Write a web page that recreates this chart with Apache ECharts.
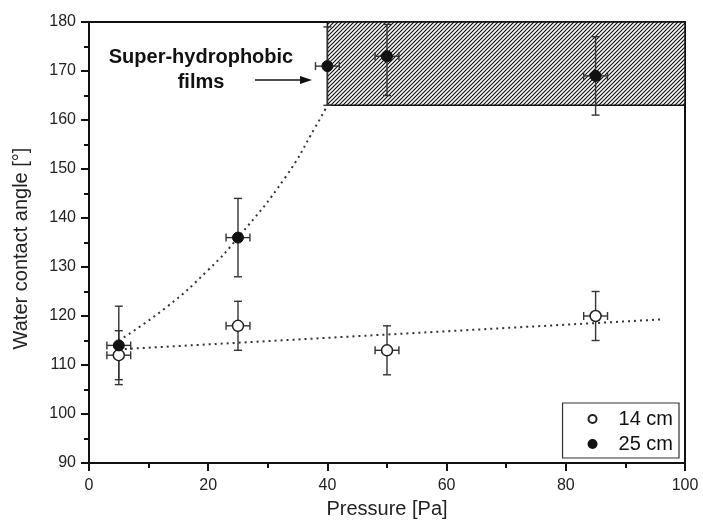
<!DOCTYPE html>
<html><head><meta charset="utf-8">
<script src="https://cdn.jsdelivr.net/npm/echarts@6/dist/echarts.min.js"></script>
<style>html,body{margin:0;padding:0;background:#fff}#c{width:703px;height:524px}</style>
</head><body><div id="c"></div>
<script>
// ---- data ----
const pressure14 = [5, 25, 50, 85];
const angle14 = [112, 118, 113, 120];
const xErr14 = [2, 2, 2, 2];
const yErrUp14 = [5, 5, 5, 5];
const yErrDown14 = [5, 5, 5, 5];

const pressure25 = [5, 25, 40, 50, 85];
const angle25 = [114, 136, 171, 173, 169];
const xErr25 = [2, 2, 2, 2, 2];
const yErrUp25 = [8, 8, 8, 6.5, 8];
const yErrDown25 = [8, 8, 8, 8, 8];

const fit14X = [5, 96];
const fit14Y = [113.2, 119.3];
const fit25X = [5, 13, 20, 25, 33, 38, 40];
const fit25Y = [115, 121.8, 129.4, 136, 148.4, 158.6, 163];

const hatchX = [40, 100];
const hatchY = [163, 180];

const xTickLabels = [0, 20, 40, 60, 80, 100];
const yTickLabels = [90, 100, 110, 120, 130, 140, 150, 160, 170, 180];

const seriesNames = ['14 cm', '25 cm'];
const xTitle = 'Pressure [Pa]';
const yTitle = 'Water contact angle [°]';
const annotation = 'Super-hydrophobic\nfilms';

// ---- build ----
const FONT = '"Liberation Sans", Arial, sans-serif';
const zip = (...arrs) => arrs[0].map((_, i) => arrs.map(a => a[i]));

const pc = document.createElement('canvas');
pc.width = 4; pc.height = 4;
const g = pc.getContext('2d');
g.fillStyle = '#fff'; g.fillRect(0, 0, 4, 4);
g.strokeStyle = '#111'; g.lineWidth = 1.2;
g.beginPath();
g.moveTo(0, 4); g.lineTo(4, 0);
g.moveTo(-1, 1); g.lineTo(1, -1);
g.moveTo(3, 5); g.lineTo(5, 3);
g.stroke();

function errRender(params, api) {
  const x = api.value(0), y = api.value(1), xe = api.value(2), yu = api.value(3), yd = api.value(4);
  const top = api.coord([x, y + yu]);
  const bot = api.coord([x, y - yd]);
  const left = api.coord([x - xe, y]);
  const right = api.coord([x + xe, y]);
  const cap = 4;
  const style = { stroke: '#333', lineWidth: 1.4, fill: null };
  const L = (x1, y1, x2, y2) => ({ type: 'line', shape: { x1, y1, x2, y2 }, style });
  return {
    type: 'group', children: [
      L(top[0], top[1], bot[0], bot[1]),
      L(top[0] - cap, top[1], top[0] + cap, top[1]),
      L(bot[0] - cap, bot[1], bot[0] + cap, bot[1]),
      L(left[0], left[1], right[0], right[1]),
      L(left[0], left[1] - cap, left[0], left[1] + cap),
      L(right[0], right[1] - cap, right[0], right[1] + cap)
    ]
  };
}

function hatchRender(params, api) {
  const p1 = api.coord([api.value(0), api.value(3)]);
  const p2 = api.coord([api.value(1), api.value(2)]);
  return {
    type: 'rect',
    shape: { x: p1[0], y: p1[1], width: p2[0] - p1[0], height: p2[1] - p1[1] },
    style: { fill: { image: pc, repeat: 'repeat' }, stroke: '#111', lineWidth: 1.5 }
  };
}

const chart = echarts.init(document.getElementById('c'), null, { renderer: 'canvas' });
const labelStyle = { color: '#222', fontSize: 16, fontFamily: FONT };
chart.setOption({
  animation: false,
  backgroundColor: '#fff',
  grid: { left: 89, right: 18, top: 22, bottom: 61, show: true, borderColor: '#111', borderWidth: 2, backgroundColor: 'transparent' },
  xAxis: {
    type: 'value',
    min: xTickLabels[0], max: xTickLabels[xTickLabels.length - 1], interval: xTickLabels[1] - xTickLabels[0],
    name: xTitle, nameLocation: 'middle', nameGap: 36,
    nameTextStyle: { color: '#222', fontSize: 20, fontFamily: FONT },
    axisLine: { show: true, lineStyle: { color: '#111', width: 2 } },
    axisTick: { show: true, length: 8, lineStyle: { color: '#111', width: 2 } },
    minorTick: { show: true, splitNumber: 2, length: 5, lineStyle: { color: '#111', width: 2 } },
    splitLine: { show: false },
    axisLabel: Object.assign({ margin: 15 }, labelStyle)
  },
  yAxis: {
    type: 'value',
    min: yTickLabels[0], max: yTickLabels[yTickLabels.length - 1], interval: yTickLabels[1] - yTickLabels[0],
    name: yTitle, nameLocation: 'middle', nameGap: 58,
    nameTextStyle: { color: '#222', fontSize: 20, fontFamily: FONT, padding: [0, 12, 0, 0] },
    axisLine: { show: true, lineStyle: { color: '#111', width: 2 } },
    axisTick: { show: true, length: 8, lineStyle: { color: '#111', width: 2 } },
    minorTick: { show: true, splitNumber: 2, length: 5, lineStyle: { color: '#111', width: 2 } },
    splitLine: { show: false },
    axisLabel: Object.assign({ margin: 13 }, labelStyle)
  },
  legend: {
    data: seriesNames,
    orient: 'vertical',
    right: 24, bottom: 66,
    backgroundColor: '#fff',
    borderColor: '#333', borderWidth: 1.2, borderRadius: 0,
    padding: [6, 6, 4, 25],
    itemWidth: 8, itemHeight: 8, itemGap: 5,
    textStyle: { color: '#111', fontSize: 20, fontFamily: FONT, lineHeight: 20, padding: [0, 0, 0, 17] },
    selectedMode: false
  },
  series: [
    {
      type: 'custom', name: 'hatch', renderItem: hatchRender, z: 1, silent: true,
      data: [[hatchX[0], hatchX[1], hatchY[0], hatchY[1]]],
      encode: { x: [0, 1], y: [2, 3] }
    },
    {
      type: 'line', name: 'fit14', data: zip(fit14X, fit14Y), showSymbol: false, z: 2, silent: true,
      lineStyle: { color: '#333', width: 2, type: [2, 4] }
    },
    {
      type: 'line', name: 'fit25', data: zip(fit25X, fit25Y), showSymbol: false, smooth: true, z: 2, silent: true,
      lineStyle: { color: '#333', width: 2, type: [2, 4] }
    },
    {
      type: 'custom', name: 'err14', renderItem: errRender, z: 3, silent: true,
      data: zip(pressure14, angle14, xErr14, yErrUp14, yErrDown14), encode: { x: 0, y: 1 }
    },
    {
      type: 'custom', name: 'err25', renderItem: errRender, z: 3, silent: true,
      data: zip(pressure25, angle25, xErr25, yErrUp25, yErrDown25), encode: { x: 0, y: 1 }, clip: true
    },
    {
      type: 'scatter', name: seriesNames[0], data: zip(pressure14, angle14), z: 4,
      symbol: 'circle', symbolSize: 11,
      itemStyle: { color: '#fff', borderColor: '#222', borderWidth: 1.5, opacity: 1 },
      emphasis: { disabled: true }
    },
    {
      type: 'scatter', name: seriesNames[1], data: zip(pressure25, angle25), z: 4,
      symbol: 'circle', symbolSize: 11,
      itemStyle: { color: '#111', borderColor: '#111', borderWidth: 1, opacity: 1 },
      emphasis: { disabled: true }
    }
  ],
  graphic: [
    {
      type: 'text', x: 201, y: 45, z: 10,
      style: { text: annotation, align: 'center', verticalAlign: 'top', font: 'bold 20px ' + FONT, fill: '#111', lineHeight: 25 }
    },
    { type: 'line', z: 10, shape: { x1: 255, y1: 80, x2: 302, y2: 80 }, style: { stroke: '#111', lineWidth: 1.5 } },
    { type: 'polygon', z: 10, shape: { points: [[312, 80], [300, 76], [300, 84]] }, style: { fill: '#111' } }
  ]
});
</script>
</body></html>
